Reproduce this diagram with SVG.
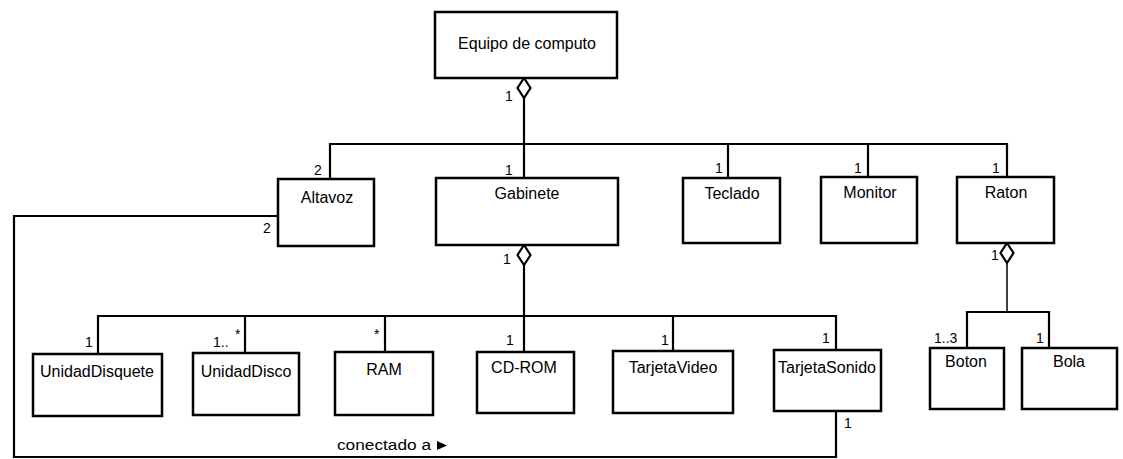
<svg xmlns="http://www.w3.org/2000/svg" width="1123" height="459" viewBox="0 0 1123 459">
  <style>
    .box { fill: #fff; stroke: #000; stroke-width: 2.5; }
    .name { font-family: "Liberation Sans", Arial, sans-serif; font-size: 16px; fill: #000; text-anchor: middle; }
    .mult { font-family: "Liberation Sans", Arial, sans-serif; font-size: 14px; fill: #000; }
    .link { fill: none; stroke: #000; stroke-width: 2.2; }
    .thin { fill: none; stroke: #000; stroke-width: 1.5; }
    .agg { fill: #fff; stroke: #000; stroke-width: 2.2; }
  </style>

  <!-- connectors -->
  <g id="connectors">
    <!-- Equipo de computo aggregation -->
    <path class="link" d="M524 98 V144"/>
    <path class="link" d="M330 179 V144 H1007 V177"/>
    <path class="link" d="M524 144 V178"/>
    <path class="link" d="M728 144 V178"/>
    <path class="link" d="M868 144 V177"/>
    <polygon class="agg" points="524,78 530.5,88 524,98 517.5,88"/>

    <!-- Gabinete aggregation -->
    <path class="link" d="M524 265 V316"/>
    <path class="link" d="M98 354 V316 H836 V350"/>
    <path class="link" d="M245 316 V353"/>
    <path class="link" d="M385 316 V352"/>
    <path class="link" d="M524 316 V352"/>
    <path class="link" d="M673 316 V351"/>
    <polygon class="agg" points="524,245 530.5,255 524,265 517.5,255"/>

    <!-- Raton aggregation -->
    <path class="thin" d="M1007 263 V312"/>
    <path class="link" d="M967 348 V312 H1049 V348"/>
    <polygon class="agg" points="1007,243 1013.5,253 1007,263 1000.5,253"/>

    <!-- Altavoz to TarjetaSonido: conectado a -->
    <path class="link" d="M278 216 H14 V457 H836 V411"/>
  </g>

  <!-- nodes -->
  <g id="equipo">
    <rect class="box" x="435" y="12" width="182" height="66"/>
    <text class="name" x="527" y="49">Equipo de computo</text>
  </g>
  <g id="altavoz">
    <rect class="box" x="278" y="179" width="96" height="67"/>
    <text class="name" x="327" y="203">Altavoz</text>
  </g>
  <g id="gabinete">
    <rect class="box" x="436" y="178" width="182" height="67"/>
    <text class="name" x="527" y="199">Gabinete</text>
  </g>
  <g id="teclado">
    <rect class="box" x="683" y="178" width="97" height="65"/>
    <text class="name" x="732" y="199">Teclado</text>
  </g>
  <g id="monitor">
    <rect class="box" x="821" y="177" width="96" height="66"/>
    <text class="name" x="870" y="198">Monitor</text>
  </g>
  <g id="raton">
    <rect class="box" x="957" y="177" width="97" height="66"/>
    <text class="name" x="1006" y="198">Raton</text>
  </g>
  <g id="unidad-disquete">
    <rect class="box" x="33" y="354" width="129" height="62"/>
    <text class="name" x="97" y="377">UnidadDisquete</text>
  </g>
  <g id="unidad-disco">
    <rect class="box" x="193" y="353" width="106" height="62"/>
    <text class="name" x="246" y="377">UnidadDisco</text>
  </g>
  <g id="ram">
    <rect class="box" x="335" y="352" width="98" height="63"/>
    <text class="name" x="384" y="375">RAM</text>
  </g>
  <g id="cd-rom">
    <rect class="box" x="477" y="352" width="97" height="61"/>
    <text class="name" x="524" y="373">CD-ROM</text>
  </g>
  <g id="tarjeta-video">
    <rect class="box" x="613" y="351" width="120" height="62"/>
    <text class="name" x="673" y="373">TarjetaVideo</text>
  </g>
  <g id="tarjeta-sonido">
    <rect class="box" x="774" y="350" width="107" height="61"/>
    <text class="name" x="827" y="373">TarjetaSonido</text>
  </g>
  <g id="boton">
    <rect class="box" x="930" y="348" width="74" height="61"/>
    <text class="name" x="966" y="367">Boton</text>
  </g>
  <g id="bola">
    <rect class="box" x="1022" y="348" width="95" height="61"/>
    <text class="name" x="1069" y="367">Bola</text>
  </g>

  <!-- multiplicities and association label -->
  <g id="labels">
    <text class="mult" x="505" y="101">1</text>
    <text class="mult" x="314" y="175">2</text>
    <text class="mult" x="263" y="233">2</text>
    <text class="mult" x="505" y="175">1</text>
    <text class="mult" x="503" y="264">1</text>
    <text class="mult" x="715" y="173">1</text>
    <text class="mult" x="854" y="173">1</text>
    <text class="mult" x="992" y="173">1</text>
    <text class="mult" x="991" y="260">1</text>
    <text class="mult" x="85" y="347">1</text>
    <text class="mult" x="213" y="347">1..</text>
    <text class="mult" x="235" y="339">*</text>
    <text class="mult" x="374" y="339">*</text>
    <text class="mult" x="506" y="345">1</text>
    <text class="mult" x="661" y="345">1</text>
    <text class="mult" x="822" y="343">1</text>
    <text class="mult" x="844" y="428">1</text>
    <text class="mult" x="934" y="343">1..3</text>
    <text class="mult" x="1036" y="343">1</text>
    <text class="mult" x="337" y="450" textLength="94" lengthAdjust="spacingAndGlyphs">conectado a</text>
    <path d="M437 441 L447 445.5 L437 450 Z" fill="#000"/>
  </g>
</svg>
